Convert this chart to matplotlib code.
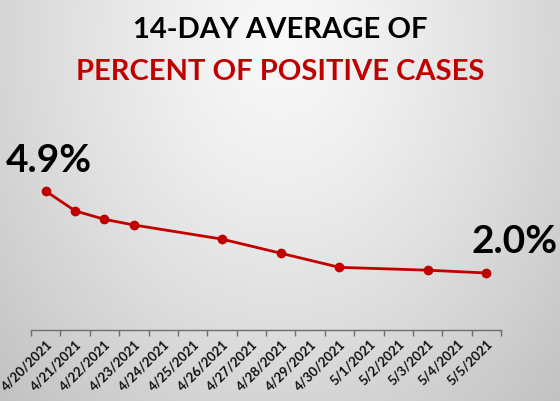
import numpy as np
import matplotlib
matplotlib.use("Agg")
import matplotlib.pyplot as plt

dates = ["4/20/2021", "4/21/2021", "4/22/2021", "4/23/2021", "4/24/2021", "4/25/2021",
         "4/26/2021", "4/27/2021", "4/28/2021", "4/29/2021", "4/30/2021", "5/1/2021",
         "5/2/2021", "5/3/2021", "5/4/2021", "5/5/2021"]
percent = [4.9, 4.2, 3.9, 3.7, None, None, 3.2, None, 2.7, None, 2.2, None, None, 2.1, None, 2.0]
title_line1 = "14-DAY AVERAGE OF"
title_line2 = "PERCENT OF POSITIVE CASES"

RED = "#C00000"
FONT = "Lato"

W, H = 560, 401
fig = plt.figure(figsize=(W / 100, H / 100), dpi=100)

# background gradient
bg = fig.add_axes([0, 0, 1, 1], zorder=-10)
yy, xx = np.mgrid[0:H, 0:W]
d = np.sqrt(((xx - 280) / 330.0) ** 2 + ((yy - 40) / 420.0) ** 2)
g = 0.975 - 0.17 * np.clip(d, 0, 1.3) ** 1.3
img = np.dstack([g, g, g])
bg.imshow(img, extent=[0, 1, 0, 1], aspect="auto", interpolation="bilinear")
bg.axis("off")

left = 31 / W
right = 501 / W
bottom = 1 - 329.5 / H
top = 1 - 160 / H
ax = fig.add_axes([left, bottom, right - left, top - bottom])
ax.patch.set_alpha(0)

x_idx = [i for i, v in enumerate(percent) if v is not None]
y_val = [v for v in percent if v is not None]
ax.plot(x_idx, y_val, color=RED, lw=2.0, marker="o", ms=6, mfc=RED, mec=RED, zorder=3,
        solid_capstyle="round")

ax.set_xlim(-0.5, len(dates) - 0.5)
ax.set_ylim(0, 6)
ax.set_yticks([])
for s in ["left", "right", "top"]:
    ax.spines[s].set_visible(False)
ax.spines["bottom"].set_color("#6e6e6e")
ax.spines["bottom"].set_linewidth(1.0)

ax.set_xticks(np.arange(-0.5, len(dates), 1.0), minor=True)
ax.set_xticks(np.arange(len(dates)))
ax.set_xticklabels(dates, rotation=45, ha="right", rotation_mode="anchor",
                   fontsize=9.5, fontweight="bold", family=FONT, color="#111111")
ax.tick_params(axis="x", which="major", length=0, pad=6)
ax.tick_params(axis="x", which="minor", length=4, color="#6e6e6e", width=1.0)

# end labels
ax.annotate(f"{percent[0]:.1f}%", xy=(0, percent[0]), xytext=(-28.5, 13.5),
            textcoords="offset points", ha="left", va="baseline",
            fontsize=28, fontweight="bold", family=FONT, color="black")
ax.annotate(f"{percent[-1]:.1f}%", xy=(len(dates) - 1, percent[-1]), xytext=(-10.5, 14.2),
            textcoords="offset points", ha="left", va="baseline",
            fontsize=28, fontweight="bold", family=FONT, color="black")

fig.text(0.5, 1 - 38 / H, title_line1, ha="center", va="baseline",
         fontsize=21, fontweight="bold", family=FONT, color="black")
fig.text(0.5, 1 - 80 / H, title_line2, ha="center", va="baseline",
         fontsize=21, fontweight="bold", family=FONT, color=RED)

fig.savefig("out.png", dpi=100)
